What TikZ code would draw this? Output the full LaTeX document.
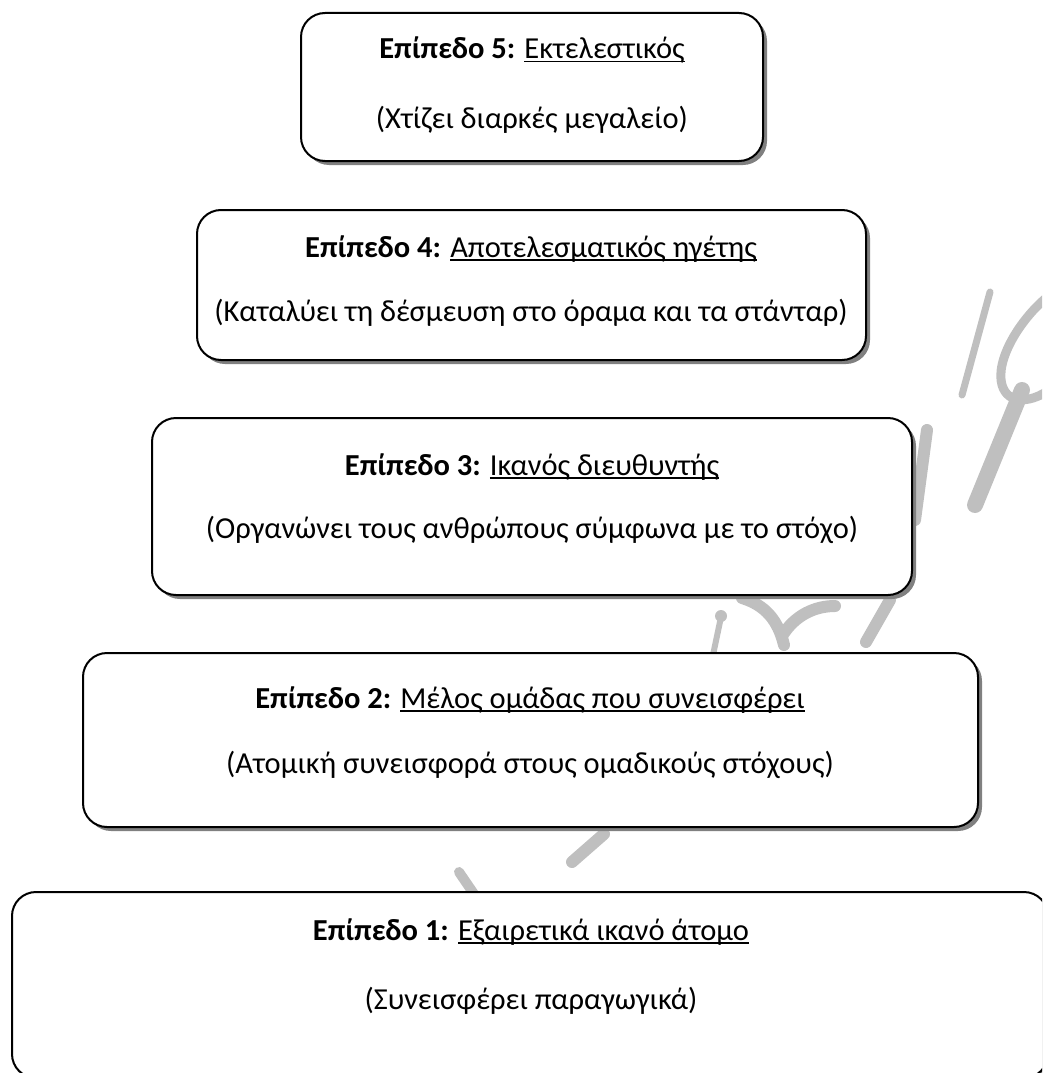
\documentclass[tikz,border=0pt]{standalone}
\usepackage{fontspec}
\setmainfont{Carlito}
\usetikzlibrary{shadows}
% underline drawn as a rule just below the baseline
\newcommand\ulined[1]{\setbox0\hbox{#1}\rlap{\rule[-3.5pt]{\wd0}{1.5pt}}\box0}
\begin{document}
\begin{tikzpicture}[x=1pt,y=-1pt,
  levelbox/.style={draw=black, line width=2pt, rounded corners=24pt, fill=white,
    inner sep=0pt, drop shadow={shadow xshift=4pt, shadow yshift=-4pt, fill=black!50, opacity=1}},
  levelhead/.style={anchor=base, font=\fontsize{30.5}{36}\selectfont, inner sep=0pt},
  leveltext/.style={anchor=base, font=\fontsize{30.5}{36}\selectfont, inner sep=0pt},
  wmstroke/.style={draw=black!25, line cap=round, line join=round}]
\useasboundingbox (0,0) rectangle (1042,1073);
\clip (0,0) rectangle (1042,1073);
% faint background lettering
\draw[wmstroke, line width=7pt] (990,292) -- (962,395);
\draw[wmstroke, line width=16pt] (1022,390) -- (975,505);
\draw[wmstroke, line width=9pt] (1046,298) .. controls (1020,320) and (995,360) .. (1002,385)
   .. controls (1008,405) and (1030,402) .. (1046,392);
\draw[wmstroke, line width=12pt] (927,430) -- (915,520);
\draw[wmstroke, line width=12pt] (890,600) -- (866,642);
\draw[wmstroke, line width=12pt] (782,636) .. controls (795,615) and (815,606) .. (835,606);
\draw[wmstroke, line width=12pt] (742,598) .. controls (765,605) and (778,620) .. (784,645);
\draw[wmstroke, line width=6pt] (721,617) -- (713,655);
\fill[black!25] (721,616) circle (6);
\draw[wmstroke, line width=12pt] (604,834) -- (572,862);
\draw[wmstroke, line width=10pt] (459,872) -- (474,894);
% levels, top to bottom
\node[levelbox, minimum width=462pt, minimum height=148pt] (l5) at (532,87) {};
\node[levelbox, minimum width=669pt, minimum height=150pt] (l4) at (531.5,285) {};
\node[levelbox, minimum width=760pt, minimum height=177pt] (l3) at (532,506.5) {};
\node[levelbox, minimum width=895pt, minimum height=174pt] (l2) at (530.5,740) {};
\node[levelbox, minimum width=1036pt, minimum height=186pt] (l1) at (530,985) {};
% labels
\node[levelhead] (h5) at (532,59) {\textbf{Επίπεδο 5:} \ulined{Εκτελεστικός}};
\node[leveltext] (d5) at (532,128) {(Χτίζει διαρκές μεγαλείο)};
\node[levelhead] (h4) at (531,257) {\textbf{Επίπεδο 4:} \ulined{Αποτελεσματικός ηγέτης}};
\node[leveltext] (d4) at (531,321) {(Καταλύει τη δέσμευση στο όραμα και τα στάνταρ)};
\node[levelhead] (h3) at (532,475) {\textbf{Επίπεδο 3:} \ulined{Ικανός διευθυντής}};
\node[leveltext] (d3) at (532,538) {(Οργανώνει τους ανθρώπους σύμφωνα με το στόχο)};
\node[levelhead] (h2) at (530,708) {\textbf{Επίπεδο 2:} \ulined{Μέλος ομάδας που συνεισφέρει}};
\node[leveltext] (d2) at (530,773) {(Ατομική συνεισφορά στους ομαδικούς στόχους)};
\node[levelhead] (h1) at (531,940) {\textbf{Επίπεδο 1:} \ulined{Εξαιρετικά ικανό άτομο}};
\node[leveltext] (d1) at (531,1009) {(Συνεισφέρει παραγωγικά)};
\end{tikzpicture}
\end{document}
